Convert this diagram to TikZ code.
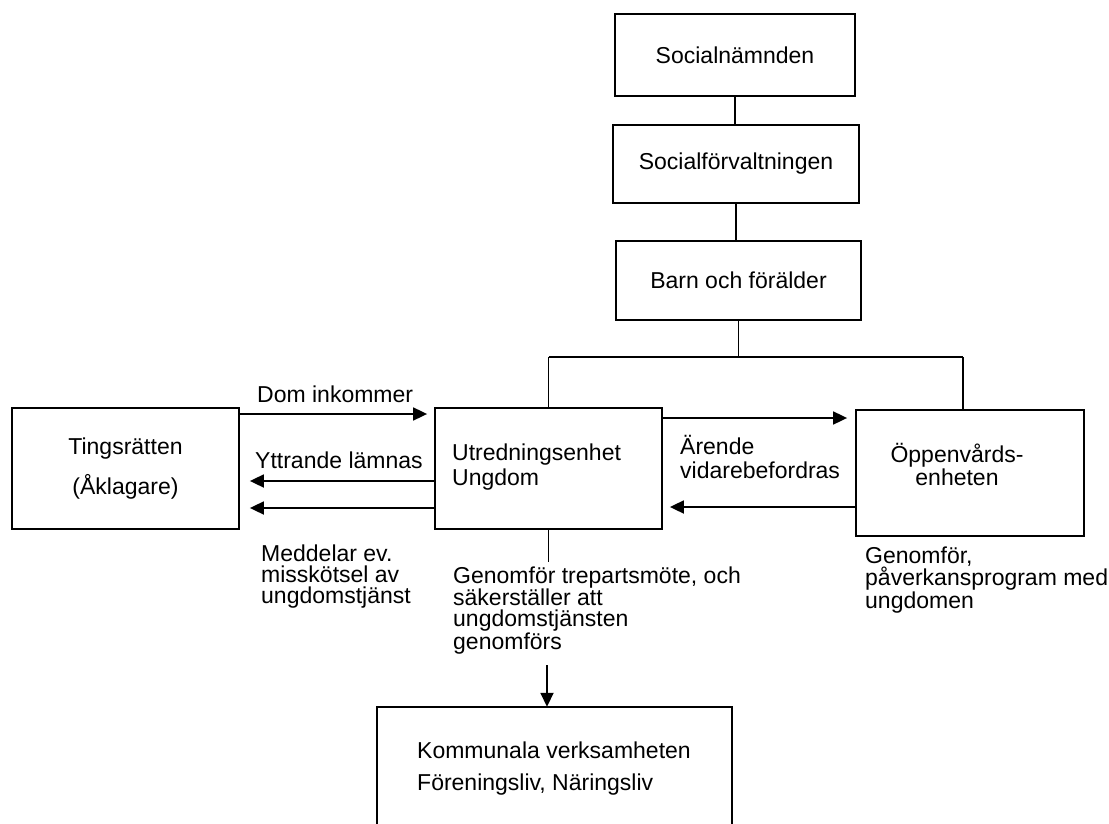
\documentclass[tikz,border=0pt]{standalone}
\usepackage{fontspec}
\setmainfont{Liberation Sans}
\usetikzlibrary{arrows.meta}
\newcommand\diagfont{\fontsize{23}{21}\selectfont}
\begin{document}
\begin{tikzpicture}[x=1pt,y=-1pt,
  box/.style={draw, line width=1.8pt, inner sep=0pt, align=center, font=\diagfont},
  thin/.style={line width=1.3pt},
  ln/.style={line width=1.8pt},
  arr/.style={line width=1.8pt, -{Triangle[length=14pt,width=13pt]}},
  lbl/.style={inner sep=0pt, anchor=base west, align=left, font=\diagfont},
]
\useasboundingbox (0,0) rectangle (1109,824);

% boxes
\node[box, minimum width=240pt, minimum height=82pt] (sn) at (735,55) {Socialnämnden};
\node[box, minimum width=246pt, minimum height=78pt] (sf) at (736,164) {Socialförvaltningen};
\node[box, minimum width=245pt, minimum height=79pt] (bf) at (738.5,280.5) {Barn och förälder};
\node[box, minimum width=227pt, minimum height=121pt] (ti) at (125.5,468.5) {Tingsrätten\\[15pt](Åklagare)};
\node[box, minimum width=227pt, minimum height=121pt] (ut) at (548.5,468.5) {};
\node[box, minimum width=228pt, minimum height=126pt] (op) at (970,473) {};
\node[inner sep=0pt, minimum width=355pt, minimum height=117pt] (ko) at (554.5,765.5) {};
\draw[line width=1.8pt] (ko.south west) |- (ko.north) -| (ko.south east);

% hierarchy connectors
\coordinate (jl) at (548.5,357);
\coordinate (jr) at (963,357);
\draw[thin] (sn.south) -- (sn.south |- sf.north);
\draw[thin] (sf.south) -- (sf.south |- bf.north);
\draw[thin] (bf.south) -- (bf.south |- jl);
\draw[ln] (jl) -- (jr);
\draw[ln] (jl) -- (ut.north);
\draw[ln] (jr) -- (jr |- op.north);

% arrows
\draw[arr, shorten >=7pt] (ti.east |- 0,414) -- (ut.west |- 0,414);
\draw[arr, shorten >=10pt] (ut.west |- 0,481) -- (ti.east |- 0,481);
\draw[arr, shorten >=10pt] (ut.west |- 0,508) -- (ti.east |- 0,508);
\draw[arr, shorten >=8pt] (ut.east |- 0,418) -- (op.west |- 0,418);
\draw[arr, shorten >=7pt] (op.west |- 0,507) -- (ut.east |- 0,507);

\coordinate (ub) at (548.5,562);
\draw[ln] (ut.south) -- (ub);
\coordinate (ka) at (547,665);
\draw[arr] (ka) -- (ka |- ko.north);

% labels (base anchor = baseline of the last line)
\node[lbl] (utt) at (452,485) {Utredningsenhet\\[2pt]Ungdom};
\node[lbl] (dom) at (257,402) {Dom inkommer};
\node[lbl] (ytt) at (255,468) {Yttrande lämnas};
\node[lbl] (med) at (261,603) {Meddelar ev.\\misskötsel av\\ungdomstjänst};
\node[lbl] (are) at (680,478) {Ärende\\[3pt]vidarebefordras};
\node[lbl, anchor=base, align=center] (opt) at (957,485) {Öppenvårds-\\enheten};
\node[lbl] (gen) at (453,649) {Genomför trepartsmöte, och\\säkerställer att\\ungdomstjänsten\\genomförs};
\node[lbl] (pav) at (865,608) {Genomför,\\påverkansprogram med\\ungdomen};
\node[lbl] (kom) at (417,790) {Kommunala verksamheten\\[11pt]Föreningsliv, Näringsliv};
\end{tikzpicture}
\end{document}
